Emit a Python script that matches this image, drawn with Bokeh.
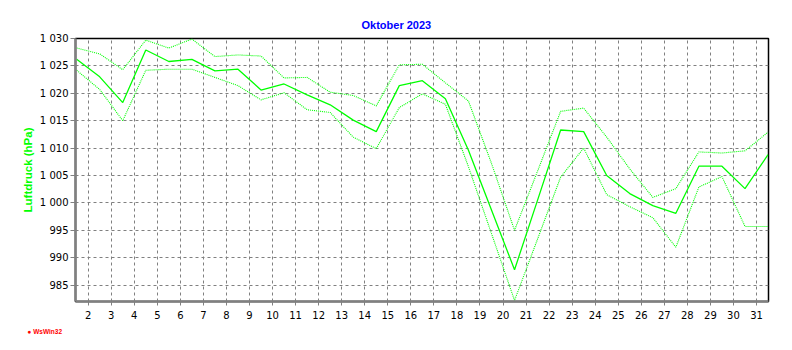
from bokeh.plotting import figure
from bokeh.models import Range1d, FixedTicker, Title
from bokeh.embed import file_html
from bokeh.resources import INLINE

# ---------------- data ----------------
days = list(range(1, 32))
pressure_mean = [1026.2, 1023.0, 1018.3, 1027.9, 1025.8, 1026.2, 1024.1, 1024.4, 1020.6, 1021.7,
                 1019.7, 1017.9, 1015.1, 1013.0, 1021.4, 1022.3, 1019.0, 1009.6, 998.7, 987.8,
                 1000.5, 1013.3, 1013.0, 1005.0, 1001.7, 999.5, 998.1, 1006.7, 1006.7, 1002.6,
                 1008.8]
pressure_max = [1028.25, 1027.2, 1024.3, 1029.7, 1028.25, 1029.9, 1026.7, 1027.0, 1026.8, 1022.8,
                1022.9, 1020.2, 1019.6, 1017.7, 1025.2, 1025.3, 1021.9, 1018.6, 1007.2, 995.0,
                1005.8, 1016.7, 1017.3, 1012.0, 1006.2, 1001.0, 1002.6, 1009.3, 1009.1, 1009.5,
                1012.9]
pressure_min = [1024.2, 1020.7, 1015.0, 1024.2, 1024.4, 1024.4, 1022.9, 1021.4, 1018.8, 1020.1,
                1017.0, 1016.5, 1012.0, 1009.9, 1017.4, 1019.9, 1018.0, 1006.6, 994.4, 982.2,
                993.4, 1004.7, 1010.0, 1001.5, 999.3, 997.3, 991.9, 1002.9, 1004.8, 995.7,
                995.7]
x_ticks = list(range(2, 32))
y_ticks = [985, 990, 995, 1000, 1005, 1010, 1015, 1020, 1025, 1030]
title_text = "Oktober 2023"
y_label = "Luftdruck (hPa)"
logo_text = "\u25cf WsWin32"

# daily values are plotted at mid-day
xs = [d + 0.5 for d in days]

GREEN = "#00FF00"
GRAY = "#808080"

p = figure(width=792, height=350, output_backend="svg", toolbar_location=None,
           x_range=Range1d(1.45, 31.52), y_range=Range1d(982, 1030),
           min_border_left=75, min_border_right=24, min_border_top=38, min_border_bottom=49)
p.background_fill_color = "white"
p.border_fill_color = "white"
p.outline_line_color = "black"
p.outline_line_width = 1.5

# title (above, left-aligned with an offset so that it is centred on the canvas)
p.title.text = title_text
p.title.align = "left"
p.title.offset = 286
p.title.text_font = "Liberation Sans"
p.title.text_font_style = "bold"
p.title.text_font_size = "11px"
p.title.text_color = "#0000FF"
p.title.standoff = 15

# logo below
logo = Title(text=logo_text, align="left", offset=-48, text_font="Liberation Sans",
             text_font_style="bold", text_font_size="6.5px", text_color="#FF0000", standoff=8)
p.add_layout(logo, "below")

# axes
xa = p.xaxis[0]
xa.ticker = FixedTicker(ticks=x_ticks, num_minor_ticks=6)
xa.axis_line_color = GRAY
xa.axis_line_width = 2.5
xa.major_tick_line_color = GRAY
xa.minor_tick_line_color = GRAY
xa.major_tick_out = 4
xa.major_tick_in = 0
xa.minor_tick_out = 3
xa.minor_tick_in = 0
xa.major_label_standoff = 5
xa.major_label_text_font = "DejaVu Sans"
xa.major_label_text_font_size = "10px"
xa.major_label_text_color = "black"

ya = p.yaxis[0]
ya.ticker = FixedTicker(ticks=y_ticks, num_minor_ticks=5)
ya.major_label_overrides = {t: ("{:,}".format(t).replace(",", " ")) for t in y_ticks}
ya.axis_line_color = GRAY
ya.axis_line_width = 2.5
ya.major_tick_line_color = GRAY
ya.minor_tick_line_color = GRAY
ya.major_tick_out = 5
ya.major_tick_in = 0
ya.minor_tick_out = 3
ya.minor_tick_in = 0
ya.major_label_standoff = 2
ya.major_label_text_font = "DejaVu Sans"
ya.major_label_text_font_size = "10px"
ya.major_label_text_color = "black"
ya.axis_label = y_label
ya.axis_label_text_color = GREEN
ya.axis_label_text_font = "Liberation Sans"
ya.axis_label_text_font_style = "bold"
ya.axis_label_text_font_size = "11.5px"
ya.axis_label_standoff = 3

# grid
for g in (p.xgrid[0], p.ygrid[0]):
    g.grid_line_color = GRAY
    g.grid_line_dash = "3 3"
    g.grid_line_width = 1

# series
p.line(xs, pressure_max, line_color=GREEN, line_width=1.1, line_dash="1 1")
p.line(xs, pressure_min, line_color=GREEN, line_width=1.1, line_dash="1 1")
p.line(xs, pressure_mean, line_color=GREEN, line_width=1.3)

open("out.html", "w").write(file_html(p, INLINE))
